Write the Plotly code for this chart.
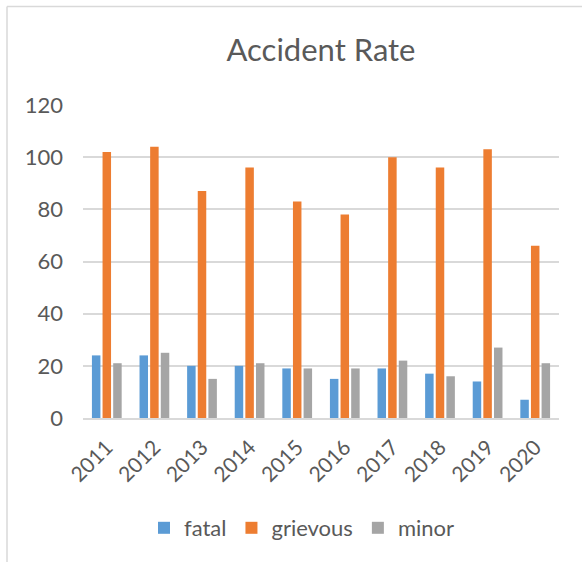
import plotly.graph_objects as go

years = ["2011", "2012", "2013", "2014", "2015", "2016", "2017", "2018", "2019", "2020"]
fatal = [24, 24, 20, 20, 19, 15, 19, 17, 14, 7]
grievous = [102, 104, 87, 96, 83, 78, 100, 96, 103, 66]
minor = [21, 25, 15, 21, 19, 19, 22, 16, 27, 21]

series = [("fatal", fatal, "#5B9BD5"), ("grievous", grievous, "#ED7D31"), ("minor", minor, "#A5A5A5")]

FONT = "Lato"
TXT = "#595959"

fig = go.Figure()
for name, vals, col in series:
    fig.add_trace(go.Bar(x=years, y=vals, name=name, marker=dict(color=col, line=dict(width=0))))

W, H = 582, 562
L, T = 83, 105
R = W - 559
B = H - 418
pw, ph = W - L - R, H - T - B

def px(x):
    return (x - L) / pw

def py(y):
    return (H - B - y) / ph

fig.update_layout(
    width=W, height=H,
    margin=dict(l=L, r=R, t=T, b=B, autoexpand=False),
    paper_bgcolor="white", plot_bgcolor="white",
    font=dict(family=FONT, color=TXT, size=22),
    title=dict(text="Accident Rate", x=0.5, xref="paper", xanchor="center",
               y=1 - 50 / H, yanchor="middle", font=dict(size=31, color=TXT, family=FONT)),
    bargap=0.33, bargroupgap=0.2,
    xaxis=dict(tickangle=-45, showgrid=False, showline=True, linecolor="#D9D9D9", linewidth=1.5,
               ticks="", ticklabelstandoff=7, tickfont=dict(size=21, color=TXT, family=FONT)),
    yaxis=dict(range=[0, 120], dtick=20, showgrid=True, gridcolor="#D9D9D9", gridwidth=1.5,
               zeroline=False, showline=False, ticks="", ticklabelstandoff=19,
               tickfont=dict(size=22, color=TXT, family=FONT)),
    legend=dict(orientation="h", x=px(302), xanchor="center", y=py(528), yanchor="middle",
                font=dict(size=22, color=TXT, family=FONT), itemwidth=30, traceorder="normal"),
    shapes=[
        dict(type="line", xref="paper", yref="paper", x0=px(7), x1=px(7), y0=py(562), y1=py(6.5),
             line=dict(color="#D9D9D9", width=1.5)),
        dict(type="line", xref="paper", yref="paper", x0=px(7), x1=px(582), y0=py(6.5), y1=py(6.5),
             line=dict(color="#D9D9D9", width=1.5)),
    ],
)

fig.write_html("out.html", config={"displayModeBar": False},
               post_script="document.body.style.margin='0';")
